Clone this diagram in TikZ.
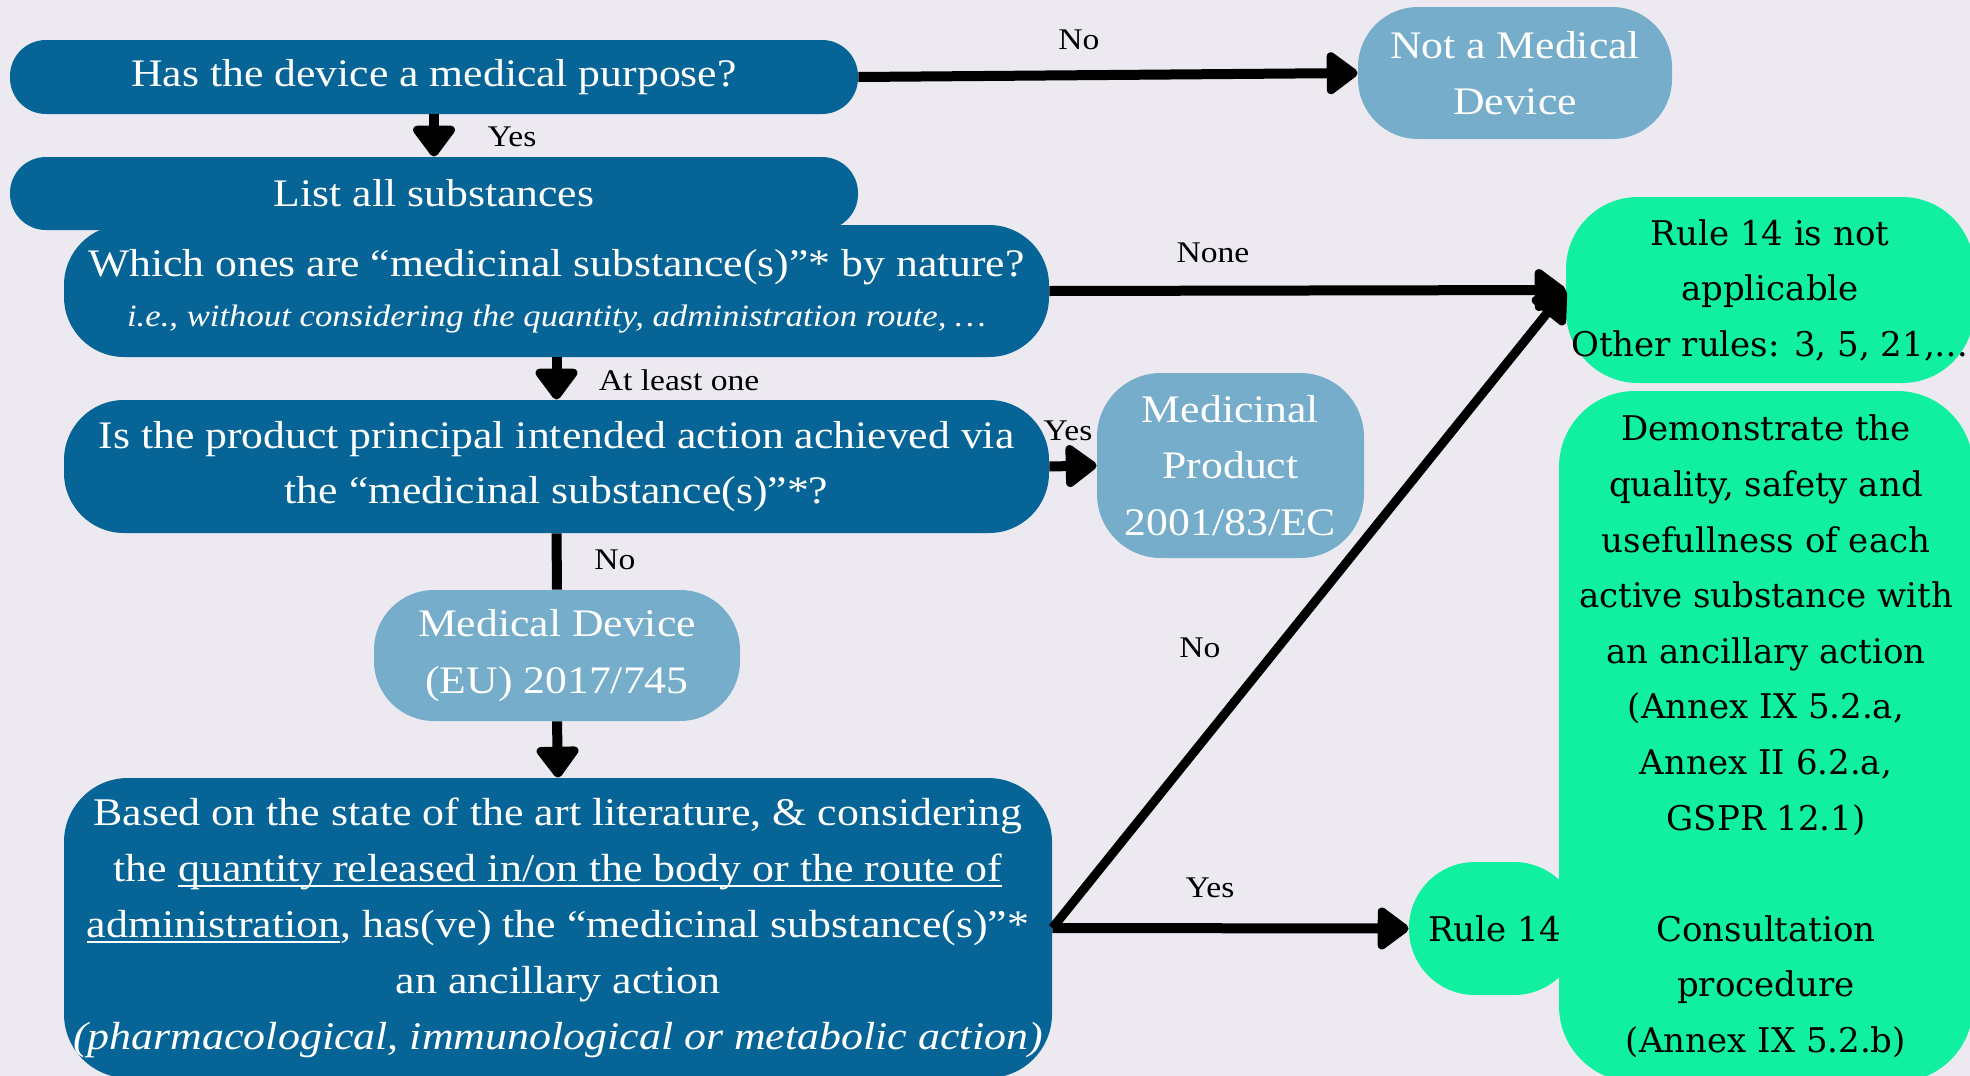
\documentclass[tikz,border=0pt]{standalone}
\usepackage{fontspec}
\setmainfont{Liberation Serif}
\newfontfamily\bfnt[FakeStretch=1.12]{Liberation Serif}
\newfontfamily\gfnt{DejaVu Serif}
\usetikzlibrary{arrows.meta}
\definecolor{bgc}{RGB}{236,234,240}
\definecolor{dblue}{RGB}{6,101,150}
\definecolor{lblue}{RGB}{117,173,203}
\definecolor{mint}{RGB}{16,240,160}
\newcommand\ulx[1]{\setbox0\hbox{#1}\rlap{\rule[-2.6pt]{\wd0}{1.1pt}}\box0}
\tikzset{
  dbox/.style={fill=dblue, text=white, rounded corners=#1, inner sep=0pt, align=center,
    font=\bfnt\fontsize{19.5}{27.5}\selectfont},
  dbox/.default=30pt,
  lbox/.style={fill=lblue, text=white, rounded corners=#1, inner sep=0pt, align=center,
    font=\bfnt\fontsize{19.5}{28.3}\selectfont},
  lbox/.default=30pt,
  gbox/.style={fill=mint, text=black, rounded corners=#1, inner sep=0pt, align=center,
    font=\gfnt\fontsize{17}{27.8}\selectfont},
  gbox/.default=34pt,
  lab/.style={text=black, inner sep=0pt, font=\bfnt\fontsize{15}{18}\selectfont},
  arr/.style={line width=5pt, -{Triangle[width=24pt,length=17pt,round]}},
  ln/.style={line width=5pt}
}
\begin{document}
\begin{tikzpicture}[x=0.5pt,y=-0.5pt]
\useasboundingbox (0,0) rectangle (1970,1076);
\fill[bgc] (0,0) rectangle (1970,1076);

% blue question boxes
\node[dbox=18pt, minimum width=424pt, minimum height=37pt] (A) at (434,77) {Has the device a medical purpose?};
\node[dbox=18pt, minimum width=424pt, minimum height=36.5pt] (B) at (434,193.5) {List all substances};
\node[dbox=30pt, minimum width=492.5pt, minimum height=66pt] (C) at (556.5,291)
  {Which ones are “medicinal substance(s)”* by nature?\\[-2.5pt]
   {\itshape\fontsize{15.5}{18}\selectfont i.e., without considering the quantity, administration route, …}};
\node[dbox=30pt, minimum width=492.5pt, minimum height=66.5pt] (D) at (556.5,466.5)
  {Is the product principal intended action achieved via\\the “medicinal substance(s)”*?};
\node[lbox=30pt, minimum width=183pt, minimum height=65.5pt] (MD) at (557,655.5)
  {Medical Device\\(EU) 2017/745};
\node[dbox=32pt, minimum width=494pt, minimum height=150pt, font=\bfnt\fontsize{19.6}{28}\selectfont] (E) at (558,928)
  {Based on the state of the art literature, \& considering\\
   the \ulx{quantity released in/on the body or the route of}\\
   \ulx{administration}, has(ve) the “medicinal substance(s)”*\\
   an ancillary action\\
   {\itshape (pharmacological, immunological or metabolic action)}};

% outcome boxes
\node[lbox=30pt, minimum width=157pt, minimum height=66pt] (NMD) at (1515,73) {Not a Medical\\Device};
\node[lbox=32pt, minimum width=133.5pt, minimum height=92.5pt] (MP) at (1230.5,465.5)
  {Medicinal\\Product\\2001/83/EC};
\node[gbox=36pt, minimum width=204pt, minimum height=93pt] (RN) at (1770,290)
  {Rule 14 is not\\applicable\\Other rules: 3, 5, 21,…};
\node[gbox=33pt, minimum width=85.5pt, minimum height=66.5pt] (R14) at (1494.5,928.5) {Rule 14};
\node[gbox=38pt, minimum width=207pt, minimum height=345.5pt] (DEM) at (1766,736.5)
  {Demonstrate the\\quality, safety and\\usefullness of each\\active substance with\\an ancillary action\\
   (Annex IX 5.2.a,\\Annex II 6.2.a,\\GSPR 12.1)\\ \\Consultation\\procedure\\(Annex IX 5.2.b)};

% connectors
\draw[arr] (A.east) -- (NMD.west);
\draw[arr] (A.south) -- (B.north);
\draw[arr] (C.south) -- (D.north);
\draw[arr] (C.east) -- (RN.west);
\draw[arr] (D.east) -- (MP.west);
\draw[ln] (D.south) -- (MD.north);
\draw[arr] (MD.south) -- (E.north);
\draw[arr] (E.east) -- (R14.west);
\draw[arr, line width=4.5pt] (E.east) -- (RN.west);

% labels
\node[lab] (l1) at (1079,40) {No};
\node[lab] (l2) at (512,137) {Yes};
\node[lab] (l3) at (679,380) {At least one};
\node[lab] (l4) at (1213,253) {None};
\node[lab] (l5) at (1068,431) {Yes};
\node[lab] (l6) at (615,560) {No};
\node[lab] (l7) at (1200,648) {No};
\node[lab] (l8) at (1210,888) {Yes};
\end{tikzpicture}
\end{document}
